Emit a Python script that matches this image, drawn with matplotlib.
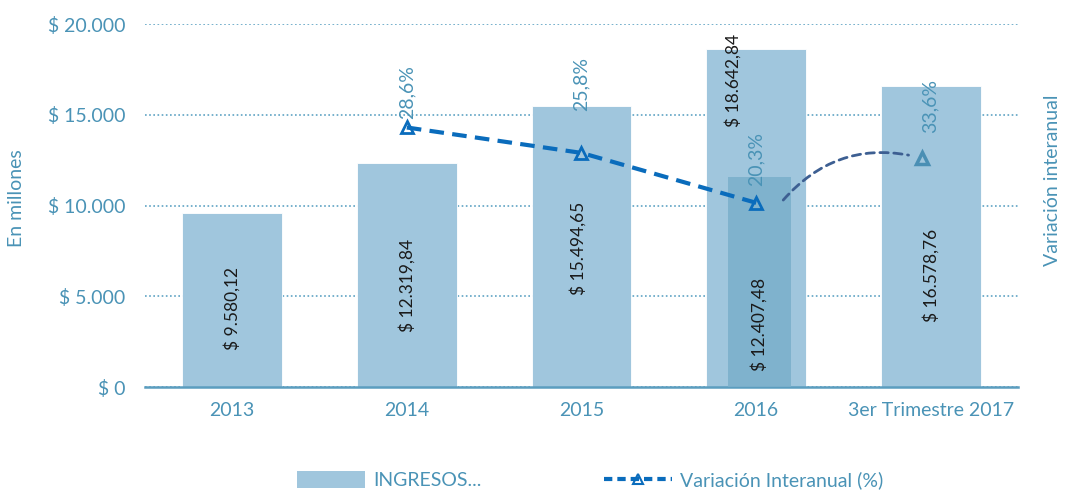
import matplotlib.pyplot as plt
from matplotlib.patches import Patch
from matplotlib.lines import Line2D
from matplotlib.transforms import offset_copy

plt.rcParams['font.family'] = ['Lato', 'DejaVu Sans']

# data
categories = ['2013', '2014', '2015', '2016', '3er Trimestre 2017']
ingresos = [9580.12, 12319.84, 15494.65, 18642.84, 16578.76]
ingresos_labels = ['$ 9.580,12', '$ 12.319,84', '$ 15.494,65', '$ 18.642,84', '$ 16.578,76']
q3_2016 = 12407.48
q3_2016_label = '$ 12.407,48'
var_years = [1, 2, 3]
var_values = [28.6, 25.8, 20.3]
var_labels = ['28,6%', '25,8%', '20,3%']
var_2017 = 33.6
var_2017_label = '33,6%'

# colours
teal = '#4a93b6'
bar_col = '#a0c6dd'
bar_dark = '#7aafcb'
line_col = '#0a6cbc'
arc_col = '#3d5f92'
fs = 14
fs_bar = 12.5

fig = plt.figure(figsize=(10.65, 4.9), dpi=100)
ax = fig.add_axes([0.136, 0.21, 0.82, 0.741])

x = list(range(len(categories)))
ax.bar(x, ingresos, width=0.57, color=bar_col, edgecolor='white', linewidth=0.6, zorder=2)
ax.set_xlim(-0.5, 4.5)
ax.set_ylim(0, 20000)
ax.set_yticks([0, 5000, 10000, 15000, 20000])
ax.set_yticklabels(['$ 0', '$ 5.000', '$ 10.000', '$ 15.000', '$ 20.000'])
ax.set_xticks(x)
ax.set_xticklabels(categories)
ax.tick_params(axis='both', length=0, labelsize=fs, colors=teal, pad=14)
ax.tick_params(axis='x', pad=11)
ax.yaxis.grid(True, linestyle=(0, (1, 1.5)), color='#5fa3c4', linewidth=1.2, zorder=0)
for s in ['top', 'right', 'left']:
    ax.spines[s].set_visible(False)
ax.spines['bottom'].set_color('#5b9dbf')
ax.spines['bottom'].set_linewidth(1.8)
ax.set_ylabel('En millones', color=teal, fontsize=fs)
ax.yaxis.set_label_coords(-0.137, 0.52)

# bar value labels (position as fraction of bar height, x shift in categories)
label_frac = [0.454, 0.456, 0.494, 0.907, 0.372]
label_dx = [0, 0, -0.02, -0.13, 0]
for xi, v, lab, f, dx in zip(x, ingresos, ingresos_labels, label_frac, label_dx):
    ax.text(xi + dx, v * f, lab, rotation=90, ha='center', va='center',
            fontsize=fs_bar, color='#1a1a1a', zorder=5)

# Q3 2016 comparison bar (own scale)
ax3 = ax.twinx()
ax3.set_ylim(0, 21450)
ax3.bar(3.02, q3_2016, width=0.36, color=bar_dark, alpha=0.85, zorder=2)
ax3.text(3.02, q3_2016 * 0.30, q3_2016_label, rotation=90, ha='center', va='center',
         fontsize=fs_bar, color='#1a1a1a')
ax3.axis('off')

# interannual variation
ax2 = ax.twinx()
ax2.set_ylim(0, 40)
ax2.plot(var_years, var_values, color=line_col, linewidth=3, linestyle=(0, (3.5, 2)),
         marker='^', markersize=9, markerfacecolor='none', markeredgewidth=2, zorder=4)
offs = [6, 30, 12, 20]
for xi, v, lab, o in zip(var_years, var_values, var_labels, offs):
    ax2.annotate(lab, (xi, v), xytext=(0, o), textcoords='offset points', rotation=90,
                 ha='center', va='bottom', fontsize=fs, color=teal)
ax2.set_yticks([])
for s in ax2.spines.values():
    s.set_visible(False)
ax2.set_ylabel('Variación interanual', color=teal, fontsize=fs)
ax2.yaxis.set_label_coords(1.03, 0.57)

# 2017 partial-year variation (own scale)
ax4 = ax.twinx()
ax4.set_ylim(0, 53.3)
x_2017 = 4 - 0.05
ax4.plot([x_2017], [var_2017], linestyle='none', marker='^', markersize=8,
         markerfacecolor='none', markeredgecolor='#4a8fb4', markeredgewidth=2.5)
ax4.annotate(var_2017_label, (x_2017, var_2017), xytext=(6, 18), textcoords='offset points',
             rotation=90, ha='center', va='bottom', fontsize=fs, color=teal)
arc_start = offset_copy(ax2.transData, fig=fig, x=19.5, y=2, units='points')
ax4.annotate('', xy=(x_2017, var_2017), xytext=(3, var_values[-1]), textcoords=arc_start,
             arrowprops=dict(arrowstyle='-', connectionstyle='arc3,rad=-0.31',
                             linestyle=(0, (3, 2)), color=arc_col, linewidth=2,
                             shrinkA=0, shrinkB=10))
ax4.axis('off')

ax3.set_zorder(1)
ax4.set_zorder(2)
ax2.set_zorder(3)
for a in (ax2, ax3, ax4):
    a.patch.set_visible(False)

handles = [Patch(facecolor=bar_col),
           Line2D([], [], color=line_col, linewidth=3, linestyle=(0, (2, 1.2)), marker='^',
                  markersize=7, markerfacecolor='none', markeredgewidth=1.5)]
leg = fig.legend(handles, ['INGRESOS...', 'Variación Interanual (%)'], loc='center',
                 bbox_to_anchor=(0.554, 0.02), ncol=2, frameon=False, fontsize=fs,
                 handlelength=3.5, handleheight=0.9, columnspacing=6.3, handletextpad=0.4)
for t in leg.get_texts():
    t.set_color(teal)

fig.savefig('out.png', dpi=100)
